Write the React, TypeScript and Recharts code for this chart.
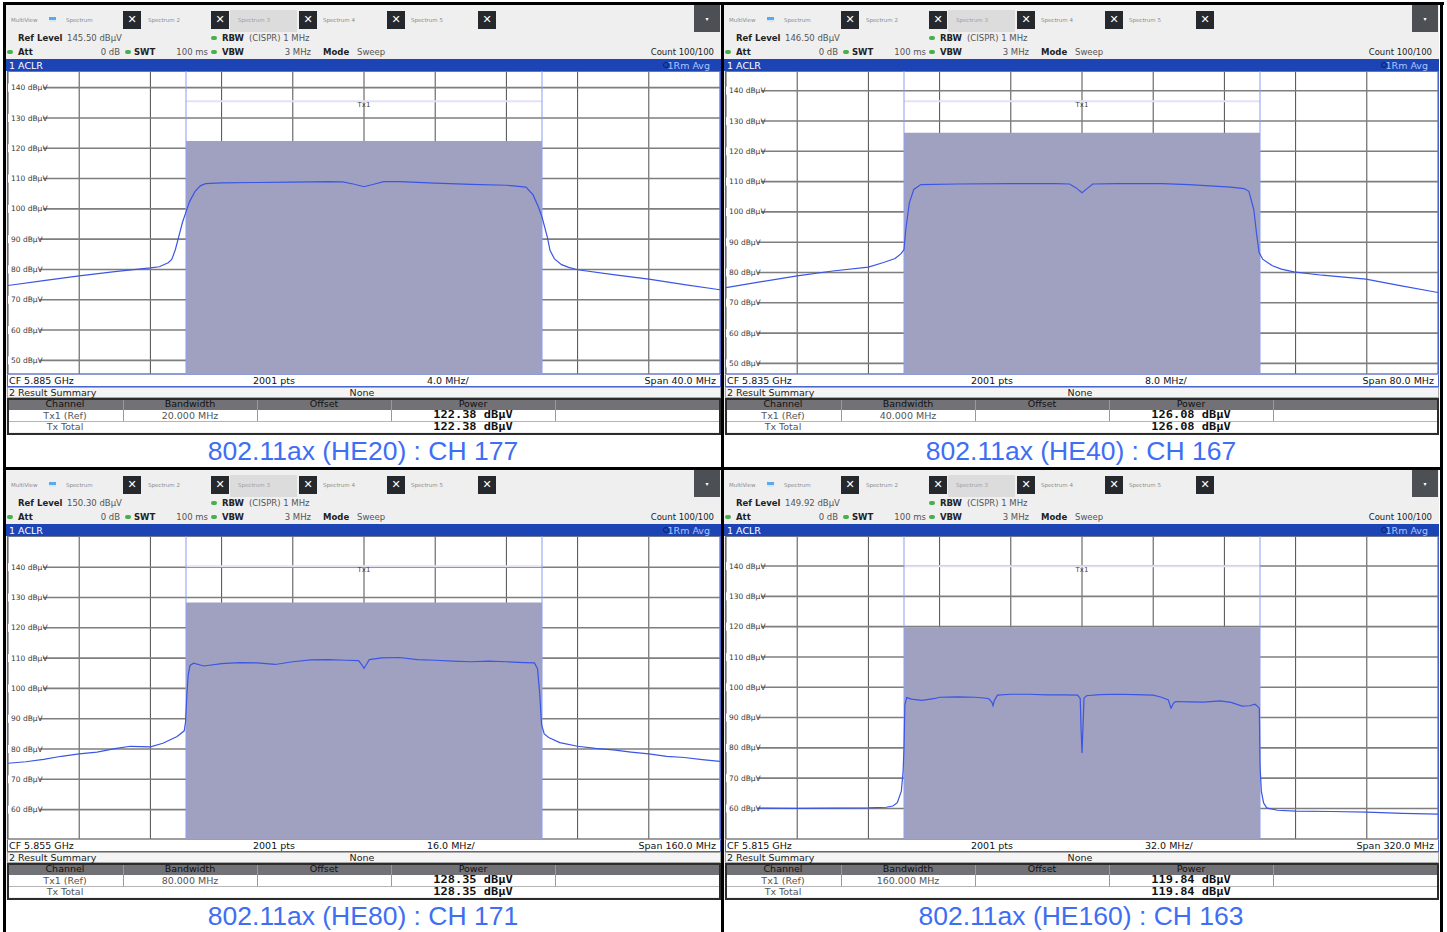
import type { CSSProperties, ReactNode } from "react";
import {
  ComposedChart,
  Line,
  XAxis,
  YAxis,
  CartesianGrid,
  ReferenceArea,
  ReferenceLine,
  ReferenceDot,
} from "recharts";

const UI_FONT = "'DejaVu Sans', Verdana, sans-serif";
const MONO_FONT = "'DejaVu Sans Mono', monospace";
const CAPTION_FONT = "'Liberation Sans', Arial, sans-serif";

// one entry per screenshot: HE20, HE40, HE80, HE160
const captions = [
  "802.11ax (HE20) : CH 177",
  "802.11ax (HE40) : CH 167",
  "802.11ax (HE80) : CH 171",
  "802.11ax (HE160) : CH 163",
];
const refLevels = [145.5, 146.5, 150.3, 149.92];
const refLabels = ["145.50 dBµV", "146.50 dBµV", "150.30 dBµV", "149.92 dBµV"];
const centerLabels = ["CF 5.885 GHz", "CF 5.835 GHz", "CF 5.855 GHz", "CF 5.815 GHz"];
const spans = [40, 80, 160, 320];
const divLabels = ["4.0 MHz/", "8.0 MHz/", "16.0 MHz/", "32.0 MHz/"];
const spanLabels = ["Span 40.0 MHz", "Span 80.0 MHz", "Span 160.0 MHz", "Span 320.0 MHz"];
const channelBw = [20, 40, 80, 160];
const bwLabels = ["20.000 MHz", "40.000 MHz", "80.000 MHz", "160.000 MHz"];
const powerValues = [122.38, 126.08, 128.35, 119.84];
const powerLabels = ["122.38 dBµV", "126.08 dBµV", "128.35 dBµV", "119.84 dBµV"];
const limitLevels = [135.5, 136.5, 140.3, 139.92];
const levelTicks = [
  [50, 60, 70, 80, 90, 100, 110, 120, 130, 140],
  [50, 60, 70, 80, 90, 100, 110, 120, 130, 140],
  [60, 70, 80, 90, 100, 110, 120, 130, 140],
  [60, 70, 80, 90, 100, 110, 120, 130, 140],
];
const freqTicks = [
  [-20, -16, -12, -8, -4, 0, 4, 8, 12, 16, 20],
  [-40, -32, -24, -16, -8, 0, 8, 16, 24, 32, 40],
  [-80, -64, -48, -32, -16, 0, 16, 32, 48, 64, 80],
  [-160, -128, -96, -64, -32, 0, 32, 64, 96, 128, 160],
];

// traces: [offset from CF in MHz, level in dBµV]
const he20Trace: [number, number][] = [
  [-20, 74.7], [-18, 76.3], [-16, 77.9], [-14, 79.3], [-12, 80.5], [-11.5, 80.9],
  [-11, 82.2], [-10.8, 83.3], [-10.6, 86.5], [-10.4, 91.0], [-10.2, 95.5], [-10.0, 99.0],
  [-9.8, 102.4], [-9.5, 105.7], [-9.2, 107.6], [-8.9, 108.3], [-8, 108.6], [-6, 108.7],
  [-4, 108.8], [-2, 109.0], [-1.2, 108.9], [-0.6, 108.2], [0, 107.3], [0.6, 108.2],
  [1.1, 109.0], [2, 109.0], [4, 108.5], [6, 108.1], [8, 107.8], [9.1, 107.2],
  [9.5, 104.6], [9.8, 100.6], [10.0, 97.3], [10.3, 90.7], [10.45, 86.3], [10.7, 83.5],
  [11.1, 81.6], [11.5, 80.7], [12, 79.9], [14, 78.3], [16, 76.8], [18, 75.0], [20, 73.3],
];
const he40Trace: [number, number][] = [
  [-40, 75.0], [-36, 77.0], [-32, 78.9], [-28, 80.5], [-24, 81.8], [-22.3, 83.3],
  [-21, 84.6], [-20.3, 86.3], [-20, 87.6], [-19.8, 94.2], [-19.4, 103.0], [-18.9, 107.4],
  [-18.1, 109.0], [-14, 109.2], [-8, 109.3], [-3, 109.3], [-1.4, 109.2], [-0.7, 108.0],
  [0, 106.3], [0.7, 108.0], [1.2, 109.2], [4, 109.3], [9, 109.3], [12, 109.0],
  [16.7, 108.2], [18.2, 107.7], [18.75, 106.8], [19.3, 100.8], [19.6, 93.1], [19.9, 86.6],
  [20.3, 84.4], [21.4, 82.2], [22.4, 81.1], [23.8, 80.2], [27, 79.1], [31.9, 77.8],
  [35.9, 75.6], [40, 73.4],
];
const he80Trace: [number, number][] = [
  [-80, 75.3], [-76, 75.8], [-72, 76.6], [-68, 77.6], [-64, 78.4], [-60, 79.0],
  [-56, 80.1], [-52.5, 80.9], [-48, 80.7], [-45.2, 81.9], [-42, 84.1], [-40.4, 86.0],
  [-40.1, 89.0], [-39.8, 98.0], [-39.5, 104.5], [-39.1, 107.6], [-38.3, 108.3], [-36, 107.4],
  [-32, 108.2], [-28, 108.5], [-24, 108.4], [-20, 107.9], [-16, 108.8], [-12, 109.4],
  [-8, 109.5], [-4, 109.3], [-1.2, 109.2], [-0.5, 107.8], [0, 106.6], [0.5, 107.8],
  [1.2, 109.5], [4, 110.1], [8, 110.2], [12, 109.5], [16, 109.3], [20, 109.0],
  [24, 108.8], [28, 109.0], [32, 108.8], [36, 108.5], [38.3, 108.4], [39.0, 106.5],
  [39.5, 98.0], [39.9, 88.0], [40.5, 85.0], [41.5, 83.8], [44, 82.1], [48, 80.9],
  [52, 80.2], [56, 79.7], [60, 79.0], [64, 78.4], [68, 77.6], [72, 77.2], [76, 76.5], [80, 75.9],
];
const he160Trace: [number, number][] = [
  [-160, 60.0], [-144, 60.1], [-128, 60.0], [-112, 60.1], [-96, 60.2], [-88, 60.4],
  [-85, 60.8], [-83, 61.9], [-81.2, 65.7], [-80.4, 72.3], [-80, 79.9], [-79.6, 94.2],
  [-78.8, 96.6], [-76.7, 96.1], [-72, 95.7], [-66, 96.3], [-64, 96.7], [-56, 96.8],
  [-48, 96.7], [-42, 96.3], [-40.6, 95.2], [-40, 93.9], [-39.4, 95.6], [-38, 97.4],
  [-32, 97.7], [-24, 97.7], [-16, 97.5], [-8, 97.5], [-2, 97.4], [-0.8, 96.3],
  [-0.4, 86.0], [0, 78.3], [0.4, 86.0], [0.9, 96.4], [2, 97.2], [8, 97.6],
  [16, 97.7], [24, 97.6], [32, 97.4], [35.7, 96.7], [38.8, 95.8], [40, 93.1],
  [41, 94.6], [42, 95.3], [48, 95.2], [54.7, 95.1], [62, 95.5], [67, 95.0],
  [72, 93.8], [75.3, 93.9], [77.8, 94.4], [79, 93.6], [79.7, 93.1], [80, 74.5],
  [80.6, 65.7], [81.6, 61.9], [83, 60.2], [87.8, 59.4], [96, 59.1], [112, 59.0],
  [128, 58.8], [144, 58.4], [160, 58.1],
];
const traces = [he20Trace, he40Trace, he80Trace, he160Trace];

const tabNames = ["Spectrum", "Spectrum 2", "Spectrum 3", "Spectrum 4", "Spectrum 5"];
const tabTextX = [60, 142, 232, 317, 405];
const closeBoxX = [117, 205, 293, 381, 472];
const tableColumns = ["Channel", "Bandwidth", "Offset", "Power", ""];
const columnEdges = [1, 117, 251, 385, 549, 714];

const PANEL_W = 715;

function Txt({
  x,
  y,
  children,
  size = 8.5,
  lh,
  color = "#555",
  weight = 400,
  align = "left",
  font = UI_FONT,
  stretch,
}: {
  x: number;
  y: number;
  children: ReactNode;
  size?: number;
  lh?: number;
  color?: string;
  weight?: number;
  align?: "left" | "right" | "center";
  font?: string;
  stretch?: number;
}) {
  const h = lh ?? Math.round(size * 1.2);
  const style: CSSProperties = {
    position: "absolute",
    top: y - h / 2,
    height: h,
    lineHeight: `${h}px`,
    fontSize: size,
    color,
    fontWeight: weight,
    fontFamily: font,
    whiteSpace: "nowrap",
  };
  if (stretch) style.transform = `scaleX(${stretch})`;
  if (align === "left") style.left = x;
  else if (align === "right") {
    style.left = x - 300;
    style.width = 300;
    style.textAlign = "right";
  } else {
    style.left = x - 250;
    style.width = 500;
    style.textAlign = "center";
  }
  return <div style={style}>{children}</div>;
}

function Box({
  x,
  y,
  w,
  h,
  bg,
  border,
  radius,
}: {
  x: number;
  y: number;
  w: number;
  h: number;
  bg?: string;
  border?: string;
  radius?: string | number;
}) {
  return (
    <div
      style={{
        position: "absolute",
        left: x,
        top: y,
        width: w,
        height: h,
        background: bg,
        border,
        borderRadius: radius,
        boxSizing: "border-box",
      }}
    />
  );
}

function Dot({ x, y }: { x: number; y: number }) {
  return <Box x={x - 3} y={y - 2} w={6} h={4} bg="#46b04c" radius={2} />;
}

function LevelTick(props: any) {
  const { y, payload } = props;
  const label = `${payload.value} dBµV`;
  const w = label.length * 3.75 + 5;
  return (
    <g>
      <rect x={0} y={y - 4} width={w} height={8} fill="#fff" />
      <text x={3} y={y} dy={2.6} fontSize={7.5} fill="#3a3a3a" fontFamily={UI_FONT}>
        {label}
      </text>
    </g>
  );
}

function Panel({ i, left, top }: { i: number; left: number; top: number }) {
  const ref = refLevels[i];
  const half = spans[i] / 2;
  const bwHalf = channelBw[i] / 2;
  const data = traces[i].map(([f, v]) => ({ f, v }));

  return (
    <div style={{ position: "absolute", left, top, width: PANEL_W, height: 462, background: "#fff" }}>
      <Box x={0} y={0} w={PANEL_W} h={430} bg="#efefef" />

      {/* tab strip */}
      <Txt x={5} y={15} size={5.5} color="#8c8c8c">MultiView</Txt>
      <Box x={43} y={12} w={7} h={3} bg="#5aa9f0" />
      <Box x={43} y={15} w={7} h={2} bg="#d6e9fb" />
      <Box x={224} y={5} w={67} h={22} bg="#dcdcdc" />
      {tabNames.map((name, k) => (
        <Txt key={name} x={tabTextX[k]} y={15} size={5.5} color={k === 2 ? "#a0a0a0" : "#8c8c8c"}>
          {name}
        </Txt>
      ))}
      {closeBoxX.map((bx) => (
        <div
          key={bx}
          style={{
            position: "absolute",
            left: bx,
            top: 6,
            width: 18,
            height: 18,
            background: "#25292e",
            color: "#fff",
            fontSize: 11,
            fontWeight: 700,
            lineHeight: "18px",
            textAlign: "center",
            fontFamily: UI_FONT,
          }}
        >
          ✕
        </div>
      ))}
      <div
        style={{
          position: "absolute",
          left: 688,
          top: 0,
          width: 26,
          height: 27,
          background: "#4c4f54",
          color: "#fff",
          fontSize: 6,
          lineHeight: "27px",
          textAlign: "center",
          fontFamily: UI_FONT,
        }}
      >
        ▾
      </div>

      {/* setting rows */}
      <Txt x={12} y={33} color="#222" weight={700}>Ref Level</Txt>
      <Txt x={61} y={33}>{refLabels[i]}</Txt>
      <Dot x={208} y={33} />
      <Txt x={216} y={33} color="#222" weight={700}>RBW</Txt>
      <Txt x={243} y={33}>(CISPR) 1 MHz</Txt>

      <Dot x={4} y={47} />
      <Txt x={12} y={47} color="#222" weight={700}>Att</Txt>
      <Txt x={114} y={47} align="right">0 dB</Txt>
      <Dot x={122} y={47} />
      <Txt x={128} y={47} color="#222" weight={700}>SWT</Txt>
      <Txt x={202} y={47} align="right">100 ms</Txt>
      <Dot x={208} y={47} />
      <Txt x={216} y={47} color="#222" weight={700}>VBW</Txt>
      <Txt x={305} y={47} align="right">3 MHz</Txt>
      <Txt x={317} y={47} color="#222" weight={700}>Mode</Txt>
      <Txt x={351} y={47}>Sweep</Txt>
      <Txt x={708} y={47} align="right" color="#222">Count 100/100</Txt>

      {/* trace title bar */}
      <Box x={0} y={54} w={PANEL_W} h={12} bg="#1d44b4" />
      <Txt x={3} y={60} size={9.5} lh={11} color="#fff">1 ACLR</Txt>
      <Box x={657} y={57} w={6} h={6} border="1.5px solid #0c1f6e" radius="50%" />
      <Txt x={704} y={60} size={9.5} lh={11} color="#a9c4ff" align="right">1Rm Avg</Txt>

      {/* plot + footer frame */}
      <Box x={1} y={66} w={714} h={316} bg="#fff" border="1px solid #4a66cc" />
      <Box x={1} y={369} w={714} h={1} bg="#8e9bd6" />
      <div style={{ position: "absolute", left: 2, top: 66 }}>
        <ComposedChart width={712} height={303} data={data} margin={{ top: 0, right: 0, bottom: 0, left: 0 }}>
          <XAxis type="number" dataKey="f" domain={[-half, half]} ticks={freqTicks[i]} allowDataOverflow hide />
          <YAxis
            type="number"
            domain={[ref - 100, ref]}
            ticks={levelTicks[i]}
            allowDataOverflow
            mirror
            axisLine={false}
            tickLine={false}
            tick={(p: any) => <LevelTick {...p} />}
          />
          <CartesianGrid horizontal={false} stroke="#4e4e4e" strokeWidth={1} />
          <CartesianGrid vertical={false} stroke="#7e7e7e" strokeWidth={1.6} />
          <ReferenceArea
            x1={-bwHalf}
            x2={bwHalf}
            y1={ref - 100}
            y2={powerValues[i]}
            fill="#a0a1c1"
            fillOpacity={1}
            stroke="none"
          />
          <ReferenceLine
            segment={[
              { x: -bwHalf, y: limitLevels[i] },
              { x: bwHalf, y: limitLevels[i] },
            ]}
            stroke="#e2e2f4"
            strokeWidth={2}
          />
          <ReferenceLine x={-bwHalf} stroke="#8b9df2" />
          <ReferenceLine x={bwHalf} stroke="#8b9df2" />
          <ReferenceDot
            x={0}
            y={limitLevels[i]}
            r={0}
            fill="none"
            stroke="none"
            label={{ value: "Tx1", position: "bottom", offset: 1, fontSize: 7, fill: "#444", fontFamily: UI_FONT }}
          />
          <Line
            type="linear"
            dataKey="v"
            stroke="#3b55e6"
            strokeWidth={1.2}
            dot={false}
            isAnimationActive={false}
          />
        </ComposedChart>
      </div>

      {/* footer */}
      <Txt x={3} y={375} size={9.5} lh={11} color="#111">{centerLabels[i]}</Txt>
      <Txt x={247} y={375} size={9.5} lh={11} color="#111">2001 pts</Txt>
      <Txt x={421} y={375} size={9.5} lh={11} color="#111">{divLabels[i]}</Txt>
      <Txt x={710} y={375} size={9.5} lh={11} color="#111" align="right">{spanLabels[i]}</Txt>

      {/* result summary */}
      <Box x={1} y={382} w={714} h={11} bg="#f4f4f4" border="1px solid #a8a8a8" />
      <Txt x={3} y={388} size={9.5} lh={10} color="#222">2 Result Summary</Txt>
      <Txt x={356} y={388} size={9.5} lh={10} color="#222" align="center">None</Txt>
      <Box x={1} y={393} w={714} h={12} bg="#727276" />
      <Box x={1} y={405} w={714} h={22} bg="#fff" />
      <Box x={1} y={416} w={714} h={1} bg="#b5b5b5" />
      {columnEdges.slice(1, -1).map((cx) => (
        <Box key={cx} x={cx} y={393} w={1} h={23} bg="#9a9a9a" />
      ))}
      {tableColumns.map((name, k) => (
        <Txt
          key={k}
          x={(columnEdges[k] + columnEdges[k + 1]) / 2}
          y={399}
          size={9.5}
          lh={10}
          color="#111"
          align="center"
        >
          {name}
        </Txt>
      ))}
      <Txt x={59} y={410.5} size={9.5} lh={10} color="#555" align="center">Tx1 (Ref)</Txt>
      <Txt x={184} y={410.5} size={9.5} lh={10} color="#555" align="center">{bwLabels[i]}</Txt>
      <Txt x={467} y={410.3} size={9.6} lh={10} color="#111" weight={700} font={MONO_FONT} align="center" stretch={1.25}>
        {powerLabels[i]}
      </Txt>
      <Txt x={59} y={421.5} size={9.5} lh={10} color="#555" align="center">Tx Total</Txt>
      <Txt x={467} y={421.7} size={9.6} lh={10} color="#111" weight={700} font={MONO_FONT} align="center" stretch={1.25}>
        {powerLabels[i]}
      </Txt>
      <Box x={1} y={393} w={714} h={37} border="2px solid #2c2c2c" />

      {/* caption */}
      <Txt x={357} y={446} size={26.5} lh={30} color="#3e6ef3" font={CAPTION_FONT} align="center">
        {captions[i]}
      </Txt>
    </div>
  );
}

export default function App() {
  return (
    <div
      style={{
        position: "absolute",
        left: 0,
        top: 0,
        width: 1447,
        height: 932,
        background: "#fff",
        overflow: "hidden",
      }}
    >
      <Panel i={0} left={6} top={5} />
      <Panel i={1} left={724} top={5} />
      <Panel i={2} left={6} top={470} />
      <Panel i={3} left={724} top={470} />

      <Box x={3} y={2} w={1441} h={3} bg="#000" />
      <Box x={3} y={2} w={3} h={930} bg="#000" />
      <Box x={721} y={2} w={3} h={930} bg="#000" />
      <Box x={1440} y={2} w={3} h={930} bg="#000" />
      <Box x={3} y={467} w={1440} h={3} bg="#000" />
    </div>
  );
}
